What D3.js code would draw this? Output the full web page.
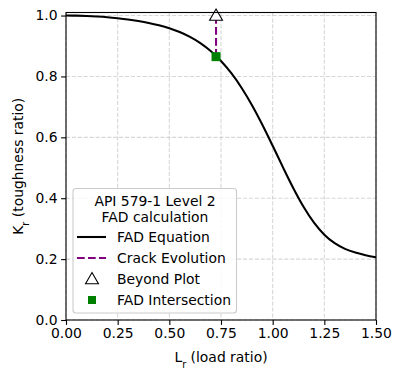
<!DOCTYPE html>
<html><head><meta charset="utf-8">
<script src="https://cdn.jsdelivr.net/npm/d3@7"></script>
<style>body{margin:0;background:#fff}svg{display:block;font-family:"DejaVu Sans",sans-serif}</style>
</head><body>
<svg id="c" width="400" height="380"></svg>
<script>
const lrValues = [0,0.05,0.1,0.15,0.2,0.25,0.3,0.35,0.4,0.45,0.5,0.55,0.6,0.65,0.7,0.75,0.8,0.85,0.9,0.95,1.0,1.05,1.1,1.15,1.2,1.25,1.3,1.35,1.4,1.45,1.5];
const krValues = [1.0,0.9997,0.9986,0.9968,0.9944,0.9911,0.9871,0.982,0.9758,0.968,0.9582,0.9457,0.9297,0.9093,0.8834,0.8508,0.8106,0.7621,0.7053,0.6413,0.5723,0.5014,0.433,0.3713,0.3198,0.2802,0.2522,0.2337,0.2215,0.2129,0.2058];
const crackLr = [0.726, 0.726];
const crackKr = [0.865, 1.0];
const beyondPoint = [0.726, 1.0];
const intersectPoint = [0.726, 0.865];
const xTicks = [0,0.25,0.5,0.75,1.0,1.25,1.5];
const yTicks = [0,0.2,0.4,0.6,0.8,1.0];
const legendTitle = ["API 579-1 Level 2","FAD calculation"];
const legendLabels = ["FAD Equation","Crack Evolution","Beyond Plot","FAD Intersection"];

const svg = d3.select("#c");
const L=66,R=376,T=12.5,B=320;
const x = d3.scaleLinear().domain([0,1.5]).range([L,R]);
const y = d3.scaleLinear().domain([0,1.01]).range([B,T]);
const fs = "13.9px";
const lw = 2.08, dash = "7.7,3.3";

// grid
const g = svg.append("g");
xTicks.forEach(t=>g.append("line").attr("x1",x(t)).attr("x2",x(t)).attr("y1",T).attr("y2",B)
  .attr("stroke","#b0b0b0").attr("stroke-opacity",0.5).attr("stroke-width",1.1).attr("stroke-dasharray","4.1,1.8"));
yTicks.forEach(t=>g.append("line").attr("y1",y(t)).attr("y2",y(t)).attr("x1",L).attr("x2",R)
  .attr("stroke","#b0b0b0").attr("stroke-opacity",0.5).attr("stroke-width",1.1).attr("stroke-dasharray","4.1,1.8"));

svg.append("defs").append("clipPath").attr("id","clip").append("rect").attr("x",L).attr("y",T).attr("width",R-L).attr("height",B-T);

// curve
const pts = lrValues.map((v,i)=>[v,krValues[i]]);
svg.append("path").attr("clip-path","url(#clip)").datum(pts)
  .attr("d",d3.line().x(d=>x(d[0])).y(d=>y(d[1])).curve(d3.curveMonotoneX))
  .attr("fill","none").attr("stroke","#000").attr("stroke-width",lw);

// crack evolution
svg.append("path").datum(crackLr.map((v,i)=>[v,crackKr[i]]))
  .attr("d",d3.line().x(d=>x(d[0])).y(d=>y(d[1])))
  .attr("fill","none").attr("stroke","purple").attr("stroke-width",lw).attr("stroke-dasharray",dash);

// markers
const tri = d3.symbol().type(d3.symbolTriangle).size(72);
svg.append("path").attr("d",tri()).attr("transform",`translate(${x(beyondPoint[0])},${y(beyondPoint[1])+1})`)
  .attr("fill","#fff").attr("stroke","#000").attr("stroke-width",1.1);
svg.append("rect").attr("x",x(intersectPoint[0])-4.5).attr("y",y(intersectPoint[1])-4.5).attr("width",9).attr("height",9).attr("fill","green");

// axes
const xa = svg.append("g").attr("transform",`translate(0,${B})`).call(d3.axisBottom(x).tickValues(xTicks).tickFormat(d3.format(".2f")).tickSizeOuter(0).tickSize(4.9).tickPadding(3.5));
const ya = svg.append("g").attr("transform",`translate(${L},0)`).call(d3.axisLeft(y).tickValues(yTicks).tickFormat(d3.format(".1f")).tickSizeOuter(0).tickSize(4.9).tickPadding(3.5));
[xa,ya].forEach(a=>{a.selectAll("text").attr("font-size",fs).attr("font-family","DejaVu Sans").attr("fill","#000");a.select(".domain").remove();a.selectAll("line").attr("stroke","#000").attr("stroke-width",1.1);});
svg.append("rect").attr("x",L).attr("y",T).attr("width",R-L).attr("height",B-T).attr("fill","none").attr("stroke","#000").attr("stroke-width",1.1);

// axis labels
const xl = svg.append("text").attr("x",(L+R)/2).attr("y",362).attr("text-anchor","middle").attr("font-size",fs);
xl.append("tspan").text("L");
xl.append("tspan").attr("baseline-shift","sub").attr("font-size","9.7px").text("r");
xl.append("tspan").text(" (load ratio)");
const yl = svg.append("text").attr("transform",`translate(23,${(T+B)/2}) rotate(-90)`).attr("text-anchor","middle").attr("font-size",fs);
yl.append("tspan").text("K");
yl.append("tspan").attr("baseline-shift","sub").attr("font-size","9.7px").text("r");
yl.append("tspan").text(" (toughness ratio)");

// legend
const lg = svg.append("g");
lg.append("rect").attr("x",73).attr("y",188.5).attr("width",163.5).attr("height",124.5).attr("rx",3)
  .attr("fill","#fff").attr("fill-opacity",0.8).attr("stroke","#cccccc").attr("stroke-width",1.1);
legendTitle.forEach((t,i)=>lg.append("text").attr("x",155).attr("y",206+i*15.5).attr("text-anchor","middle").attr("font-size",fs).text(t));
const rowY = [237,258,279,300];
legendLabels.forEach((t,i)=>lg.append("text").attr("x",117).attr("y",rowY[i]+5).attr("font-size",fs).text(t));
lg.append("line").attr("x1",77).attr("x2",106).attr("y1",rowY[0]).attr("y2",rowY[0]).attr("stroke","#000").attr("stroke-width",lw);
lg.append("line").attr("x1",77).attr("x2",106).attr("y1",rowY[1]).attr("y2",rowY[1]).attr("stroke","purple").attr("stroke-width",lw).attr("stroke-dasharray",dash);
lg.append("path").attr("d",tri()).attr("transform",`translate(92,${rowY[2]+1})`).attr("fill","#fff").attr("stroke","#000").attr("stroke-width",1.1);
lg.append("rect").attr("x",88).attr("y",rowY[3]-4).attr("width",8).attr("height",8).attr("fill","green");
</script>
</body></html>
